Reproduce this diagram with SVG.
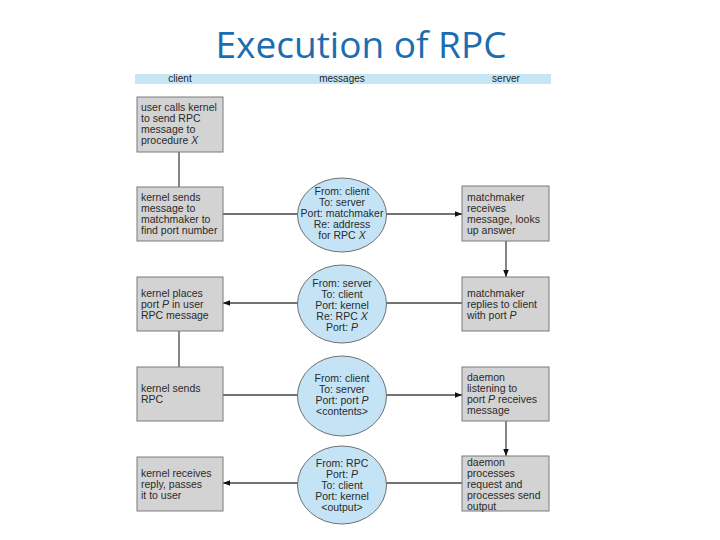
<svg xmlns="http://www.w3.org/2000/svg" width="720" height="540" viewBox="0 0 720 540">
<style>
.title{font-family:"Open Sans","Liberation Sans",sans-serif;font-size:37px;fill:#1b6db0}
.hdr{font-family:"Liberation Sans",Arial,sans-serif;font-size:10px;fill:#222}
.box{fill:#d3d3d3;stroke:#7a7a7a;stroke-width:1}
.msg{fill:#c4e4f6;stroke:#6f6f6f;stroke-width:1}
.t{font-family:"Liberation Sans",Arial,sans-serif;font-size:10.5px;fill:#2a2a2a}
.c{text-anchor:middle}
.i{font-style:italic}
.ln{stroke:#444;stroke-width:1.3;fill:none}
</style>
<defs>
<marker id="ah" viewBox="0 0 10 10" refX="10" refY="5" markerWidth="7" markerHeight="7" orient="auto" markerUnits="userSpaceOnUse">
<path d="M0,1 L10,5 L0,9 z" fill="#111"/>
</marker>
</defs>
<rect width="720" height="540" fill="#ffffff"/>
<text class="title" x="361" y="58" text-anchor="middle">Execution of RPC</text>
<g id="header">
<rect x="135" y="74" width="416" height="10" fill="#c6e6f6"/>
<text class="hdr" x="180" y="82" text-anchor="middle">client</text>
<text class="hdr" x="342" y="82" text-anchor="middle">messages</text>
<text class="hdr" x="506" y="82" text-anchor="middle">server</text>
</g>
<g id="connectors">
<line class="ln" x1="179" y1="152" x2="179" y2="187"/>
<line class="ln" x1="223" y1="214" x2="462" y2="214" marker-end="url(#ah)"/>
<line class="ln" x1="506" y1="241" x2="506" y2="277" marker-end="url(#ah)"/>
<line class="ln" x1="462" y1="303" x2="223" y2="303" marker-end="url(#ah)"/>
<line class="ln" x1="179" y1="331" x2="179" y2="367"/>
<line class="ln" x1="223" y1="395" x2="462" y2="395" marker-end="url(#ah)"/>
<line class="ln" x1="506" y1="421" x2="506" y2="456" marker-end="url(#ah)"/>
<line class="ln" x1="462" y1="483" x2="223" y2="483" marker-end="url(#ah)"/>
</g>
<g id="c1">
<rect class="box" x="137" y="97" width="86" height="55"/>
<text class="t" x="141" y="111">user calls kernel</text>
<text class="t" x="141" y="122">to send RPC</text>
<text class="t" x="141" y="133">message to</text>
<text class="t" x="141" y="144">procedure <tspan class="i">X</tspan></text>
</g>
<g id="c2">
<rect class="box" x="137" y="187" width="86" height="54"/>
<text class="t" x="141" y="201">kernel sends</text>
<text class="t" x="141" y="212">message to</text>
<text class="t" x="141" y="223">matchmaker to</text>
<text class="t" x="141" y="234">find port number</text>
</g>
<g id="m1">
<ellipse class="msg" cx="342" cy="215" rx="44.5" ry="37"/>
<text class="t c" x="342" y="195">From: client</text>
<text class="t c" x="342" y="206">To: server</text>
<text class="t c" x="342" y="217">Port: matchmaker</text>
<text class="t c" x="342" y="228">Re: address</text>
<text class="t c" x="342" y="239">for RPC <tspan class="i">X</tspan></text>
</g>
<g id="s1">
<rect class="box" x="462" y="186" width="87" height="55"/>
<text class="t" x="467" y="201">matchmaker</text>
<text class="t" x="467" y="212">receives</text>
<text class="t" x="467" y="223">message, looks</text>
<text class="t" x="467" y="234">up answer</text>
</g>
<g id="c3">
<rect class="box" x="137" y="277" width="86" height="54"/>
<text class="t" x="141" y="297">kernel places</text>
<text class="t" x="141" y="308">port <tspan class="i">P</tspan> in user</text>
<text class="t" x="141" y="319">RPC message</text>
</g>
<g id="m2">
<ellipse class="msg" cx="342" cy="304" rx="44.5" ry="39"/>
<text class="t c" x="342" y="287">From: server</text>
<text class="t c" x="342" y="298">To: client</text>
<text class="t c" x="342" y="309">Port: kernel</text>
<text class="t c" x="342" y="320">Re: RPC <tspan class="i">X</tspan></text>
<text class="t c" x="342" y="331">Port: <tspan class="i">P</tspan></text>
</g>
<g id="s2">
<rect class="box" x="462" y="277" width="87" height="54"/>
<text class="t" x="467" y="297">matchmaker</text>
<text class="t" x="467" y="308">replies to client</text>
<text class="t" x="467" y="319">with port <tspan class="i">P</tspan></text>
</g>
<g id="c4">
<rect class="box" x="137" y="367" width="86" height="54"/>
<text class="t" x="141" y="392">kernel sends</text>
<text class="t" x="141" y="403">RPC</text>
</g>
<g id="m3">
<ellipse class="msg" cx="342" cy="396" rx="44.5" ry="40"/>
<text class="t c" x="342" y="382">From: client</text>
<text class="t c" x="342" y="393">To: server</text>
<text class="t c" x="342" y="404">Port: port <tspan class="i">P</tspan></text>
<text class="t c" x="342" y="415">&lt;contents&gt;</text>
</g>
<g id="s3">
<rect class="box" x="462" y="367" width="87" height="54"/>
<text class="t" x="467" y="381">daemon</text>
<text class="t" x="467" y="392">listening to</text>
<text class="t" x="467" y="403">port <tspan class="i">P</tspan> receives</text>
<text class="t" x="467" y="414">message</text>
</g>
<g id="c5">
<rect class="box" x="137" y="457" width="86" height="54"/>
<text class="t" x="141" y="477">kernel receives</text>
<text class="t" x="141" y="488">reply, passes</text>
<text class="t" x="141" y="499">it to user</text>
</g>
<g id="m4">
<ellipse class="msg" cx="342" cy="485" rx="44.5" ry="39"/>
<text class="t c" x="342" y="467">From: RPC</text>
<text class="t c" x="342" y="478">Port: <tspan class="i">P</tspan></text>
<text class="t c" x="342" y="489">To: client</text>
<text class="t c" x="342" y="500">Port: kernel</text>
<text class="t c" x="342" y="511">&lt;output&gt;</text>
</g>
<g id="s4">
<rect class="box" x="462" y="456" width="87" height="55"/>
<text class="t" x="467" y="466">daemon</text>
<text class="t" x="467" y="477">processes</text>
<text class="t" x="467" y="488">request and</text>
<text class="t" x="467" y="499">processes send</text>
<text class="t" x="467" y="510">output</text>
</g>
</svg>
